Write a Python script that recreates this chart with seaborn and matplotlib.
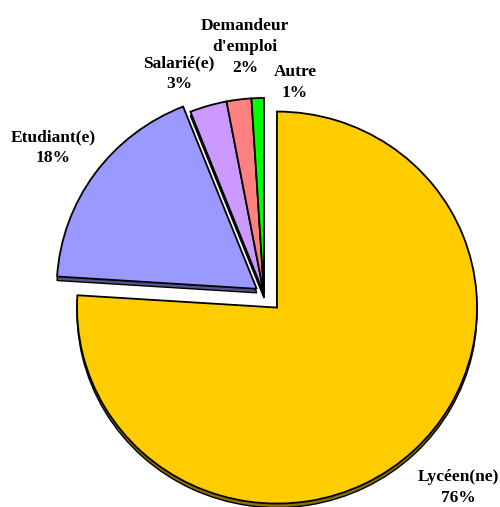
import numpy as np
import matplotlib
matplotlib.use("Agg")
import matplotlib.pyplot as plt
import matplotlib.colors as mcolors
import seaborn as sns

# Données
categories = ["Lycéen(ne)", "Etudiant(e)", "Salarié(e)", "Demandeur\nd'emploi", "Autre"]
parts = [76, 18, 3, 2, 1]
couleurs = ["#FFCC00", "#9999FF", "#CC99FF", "#FF8080", "#00FF00"]
ecarts = [0.095, 0.045, 0, 0, 0]

# position des étiquettes (pixels : centre x, ligne de base de la 1re ligne)
label_pos = [(458, 481), (53, 141), (179, 67), (245, 30), (295, 76)]
interligne = 21

sns.set_theme(style="white")
plt.rcParams['font.family'] = ['Liberation Serif', 'DejaVu Serif']

fig = plt.figure(figsize=(5.0, 5.07), dpi=100)
ax = fig.add_axes([0, 0, 1, 1])

# ombre (effet 3D)
sombres = [tuple(np.array(mcolors.to_rgb(c)) * 0.55) for c in couleurs]
ax.pie(parts, colors=sombres, explode=ecarts, startangle=90, counterclock=False,
       radius=1, center=(0, -4 / 196),
       wedgeprops=dict(edgecolor="black", linewidth=1.0))

# camembert principal
ax.pie(parts, colors=couleurs, explode=ecarts, startangle=90, counterclock=False,
       radius=1, wedgeprops=dict(edgecolor="black", linewidth=1.3))

ax.set_aspect('auto')
ax.set_xlim(-264 / 200, 236 / 200)
ax.set_ylim(-213 / 196, 294 / 196)
ax.axis('off')

# étiquettes, une ligne à la fois
for cat, p, (x, y) in zip(categories, parts, label_pos):
    lignes = cat.split("\n") + [f"{p}%"]
    for i, ligne in enumerate(lignes):
        fig.text(x / 500, 1 - (y + i * interligne) / 507, ligne,
                 ha='center', va='baseline',
                 fontsize=12.5, fontweight='bold', color='black')

fig.savefig("out.png", dpi=100)
